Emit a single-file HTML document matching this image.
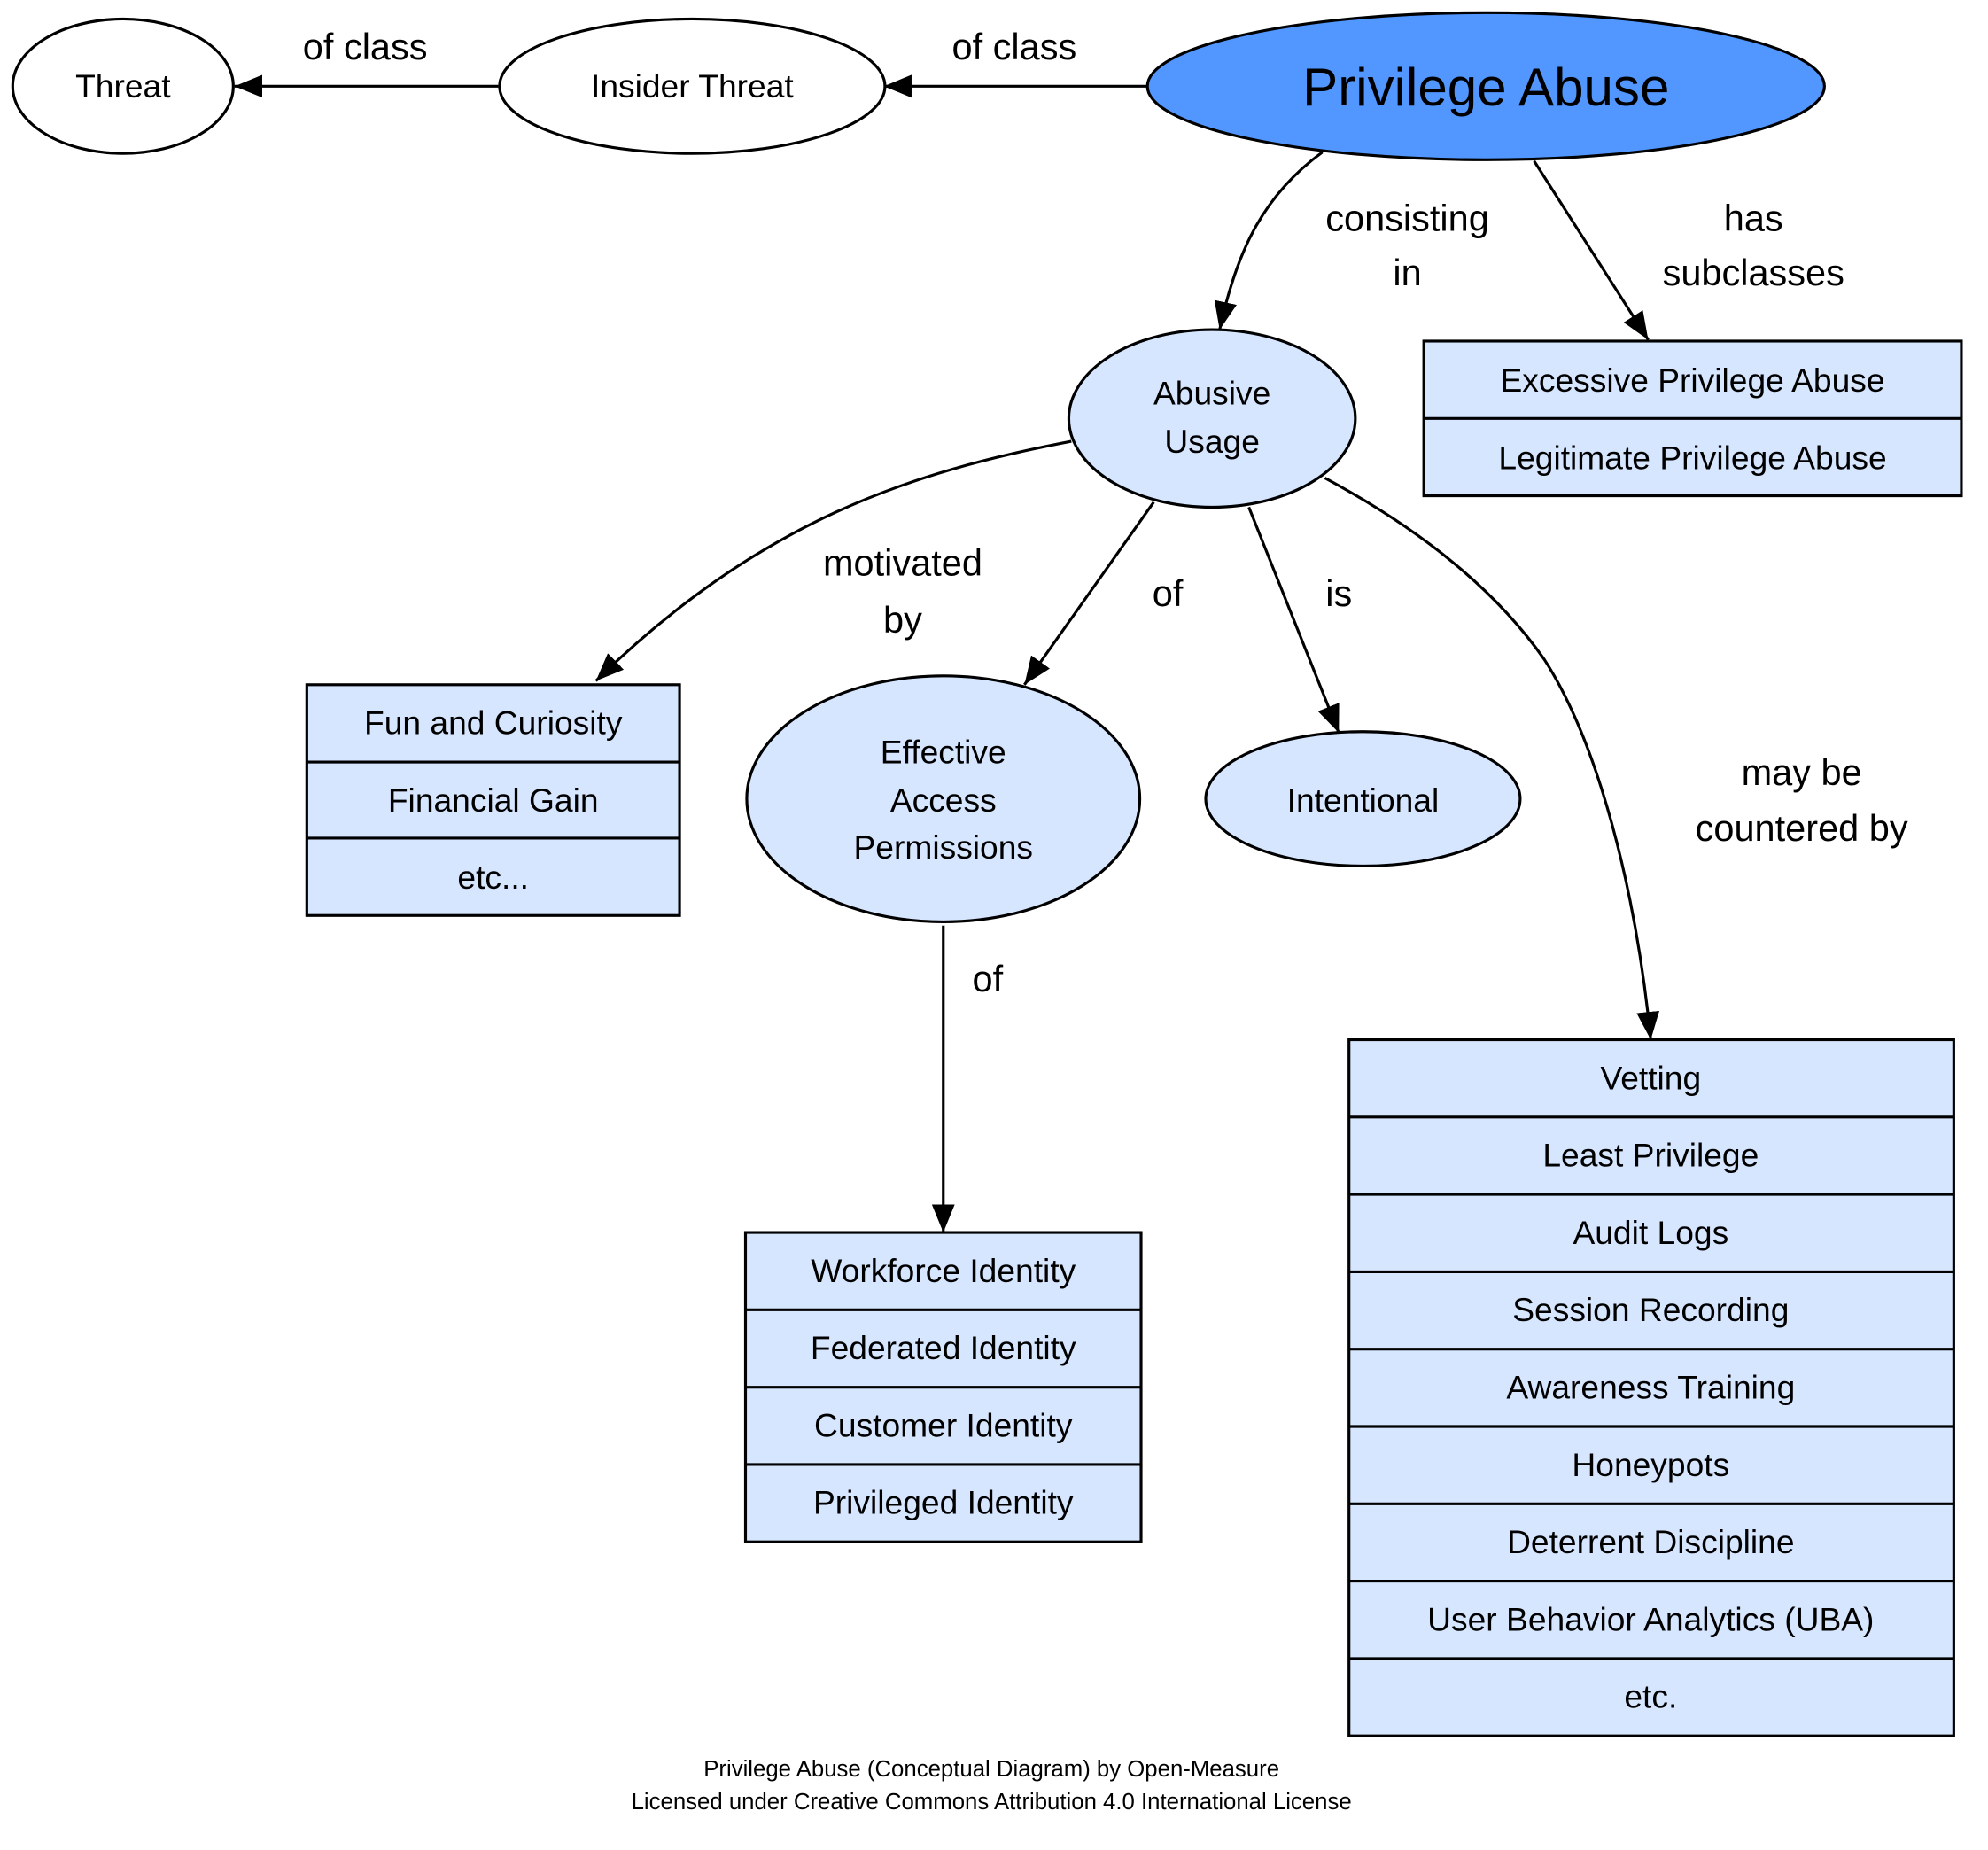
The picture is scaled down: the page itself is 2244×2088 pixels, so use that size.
<!DOCTYPE html>
<html><head><meta charset="utf-8"><style>
html,body{margin:0;padding:0;background:#fff;}
svg{display:block;}
text{font-family:"Liberation Sans",sans-serif;fill:#000;}
</style></head><body>
<svg width="2244" height="2088" viewBox="0 0 1568 1459" preserveAspectRatio="none" xmlns="http://www.w3.org/2000/svg">
<defs>
<marker id="a" markerWidth="24" markerHeight="20" refX="22" refY="10" orient="auto" markerUnits="userSpaceOnUse">
<path d="M0,1 L22,10 L0,19 Z" fill="#000"/>
</marker>
</defs>
<g stroke="#000" stroke-width="2.2" fill="none">
<path d="M393,68 L185,68" marker-end="url(#a)"/>
<path d="M905,68 L697,68" marker-end="url(#a)"/>
<path d="M1043,120 C995,155 975,200 962,260" marker-end="url(#a)"/>
<path d="M1210,127 L1300,268" marker-end="url(#a)"/>
<path d="M845,348 C720,372 600,410 470,537" marker-end="url(#a)"/>
<path d="M910,396 L808,540" marker-end="url(#a)"/>
<path d="M985,400 L1056,578" marker-end="url(#a)"/>
<path d="M1045,377 C1140,428 1190,480 1218,520 C1260,585 1290,700 1302,820" marker-end="url(#a)"/>
<path d="M744,730 L744,972" marker-end="url(#a)"/>
</g>
<g stroke="#000" stroke-width="2.2">
<ellipse cx="97" cy="68" rx="87" ry="53" fill="#fff"/>
<ellipse cx="546" cy="68" rx="152" ry="53" fill="#fff"/>
<ellipse cx="1172" cy="68" rx="267" ry="58" fill="#5297ff"/>
<ellipse cx="956" cy="330" rx="113" ry="70" fill="#d6e6ff"/>
<ellipse cx="744" cy="630" rx="155" ry="97" fill="#d6e6ff"/>
<ellipse cx="1075" cy="630" rx="124" ry="53" fill="#d6e6ff"/>
<rect x="1123" y="269" width="424" height="122" fill="#d6e6ff"/>
<line x1="1123" y1="330" x2="1547" y2="330"/>
<rect x="242" y="540" width="294" height="182" fill="#d6e6ff"/>
<line x1="242" y1="601" x2="536" y2="601"/>
<line x1="242" y1="661" x2="536" y2="661"/>
<rect x="588" y="972" width="312" height="244" fill="#d6e6ff"/>
<line x1="588" y1="1033" x2="900" y2="1033"/>
<line x1="588" y1="1094" x2="900" y2="1094"/>
<line x1="588" y1="1155" x2="900" y2="1155"/>
<rect x="1064" y="820" width="477" height="549" fill="#d6e6ff"/>
<line x1="1064" y1="881" x2="1541" y2="881"/>
<line x1="1064" y1="942" x2="1541" y2="942"/>
<line x1="1064" y1="1003" x2="1541" y2="1003"/>
<line x1="1064" y1="1064" x2="1541" y2="1064"/>
<line x1="1064" y1="1125" x2="1541" y2="1125"/>
<line x1="1064" y1="1186" x2="1541" y2="1186"/>
<line x1="1064" y1="1247" x2="1541" y2="1247"/>
<line x1="1064" y1="1308" x2="1541" y2="1308"/>
</g>
<g font-size="26" text-anchor="middle">
<text x="97" y="77">Threat</text>
<text x="546" y="77">Insider Threat</text>
<text x="1172" y="83" font-size="42">Privilege Abuse</text>
<text x="956" y="319">Abusive</text>
<text x="956" y="357">Usage</text>
<text x="744" y="602">Effective</text>
<text x="744" y="640">Access</text>
<text x="744" y="677">Permissions</text>
<text x="1075" y="640">Intentional</text>
<text x="1335" y="309">Excessive Privilege Abuse</text>
<text x="1335" y="370">Legitimate Privilege Abuse</text>
<text x="389" y="579">Fun and Curiosity</text>
<text x="389" y="640">Financial Gain</text>
<text x="389" y="701">etc...</text>
<text x="744" y="1011">Workforce Identity</text>
<text x="744" y="1072">Federated Identity</text>
<text x="744" y="1133">Customer Identity</text>
<text x="744" y="1194">Privileged Identity</text>
<text x="1302" y="859">Vetting</text>
<text x="1302" y="920">Least Privilege</text>
<text x="1302" y="981">Audit Logs</text>
<text x="1302" y="1042">Session Recording</text>
<text x="1302" y="1103">Awareness Training</text>
<text x="1302" y="1164">Honeypots</text>
<text x="1302" y="1225">Deterrent Discipline</text>
<text x="1302" y="1286">User Behavior Analytics (UBA)</text>
<text x="1302" y="1347">etc.</text>
</g>
<g font-size="29" text-anchor="middle">
<text x="288" y="47">of class</text>
<text x="800" y="47">of class</text>
<text x="1110" y="182">consisting</text>
<text x="1110" y="225">in</text>
<text x="1383" y="182">has</text>
<text x="1383" y="225">subclasses</text>
<text x="712" y="454">motivated</text>
<text x="712" y="499">by</text>
<text x="921" y="478">of</text>
<text x="1056" y="478">is</text>
<text x="1421" y="619">may be</text>
<text x="1421" y="663">countered  by</text>
<text x="779" y="782">of</text>
</g>
<g font-size="18" text-anchor="middle">
<text x="782" y="1401">Privilege Abuse (Conceptual Diagram) by Open-Measure</text>
<text x="782" y="1427">Licensed under Creative Commons Attribution 4.0 International License</text>
</g>
</svg>
</body></html>
